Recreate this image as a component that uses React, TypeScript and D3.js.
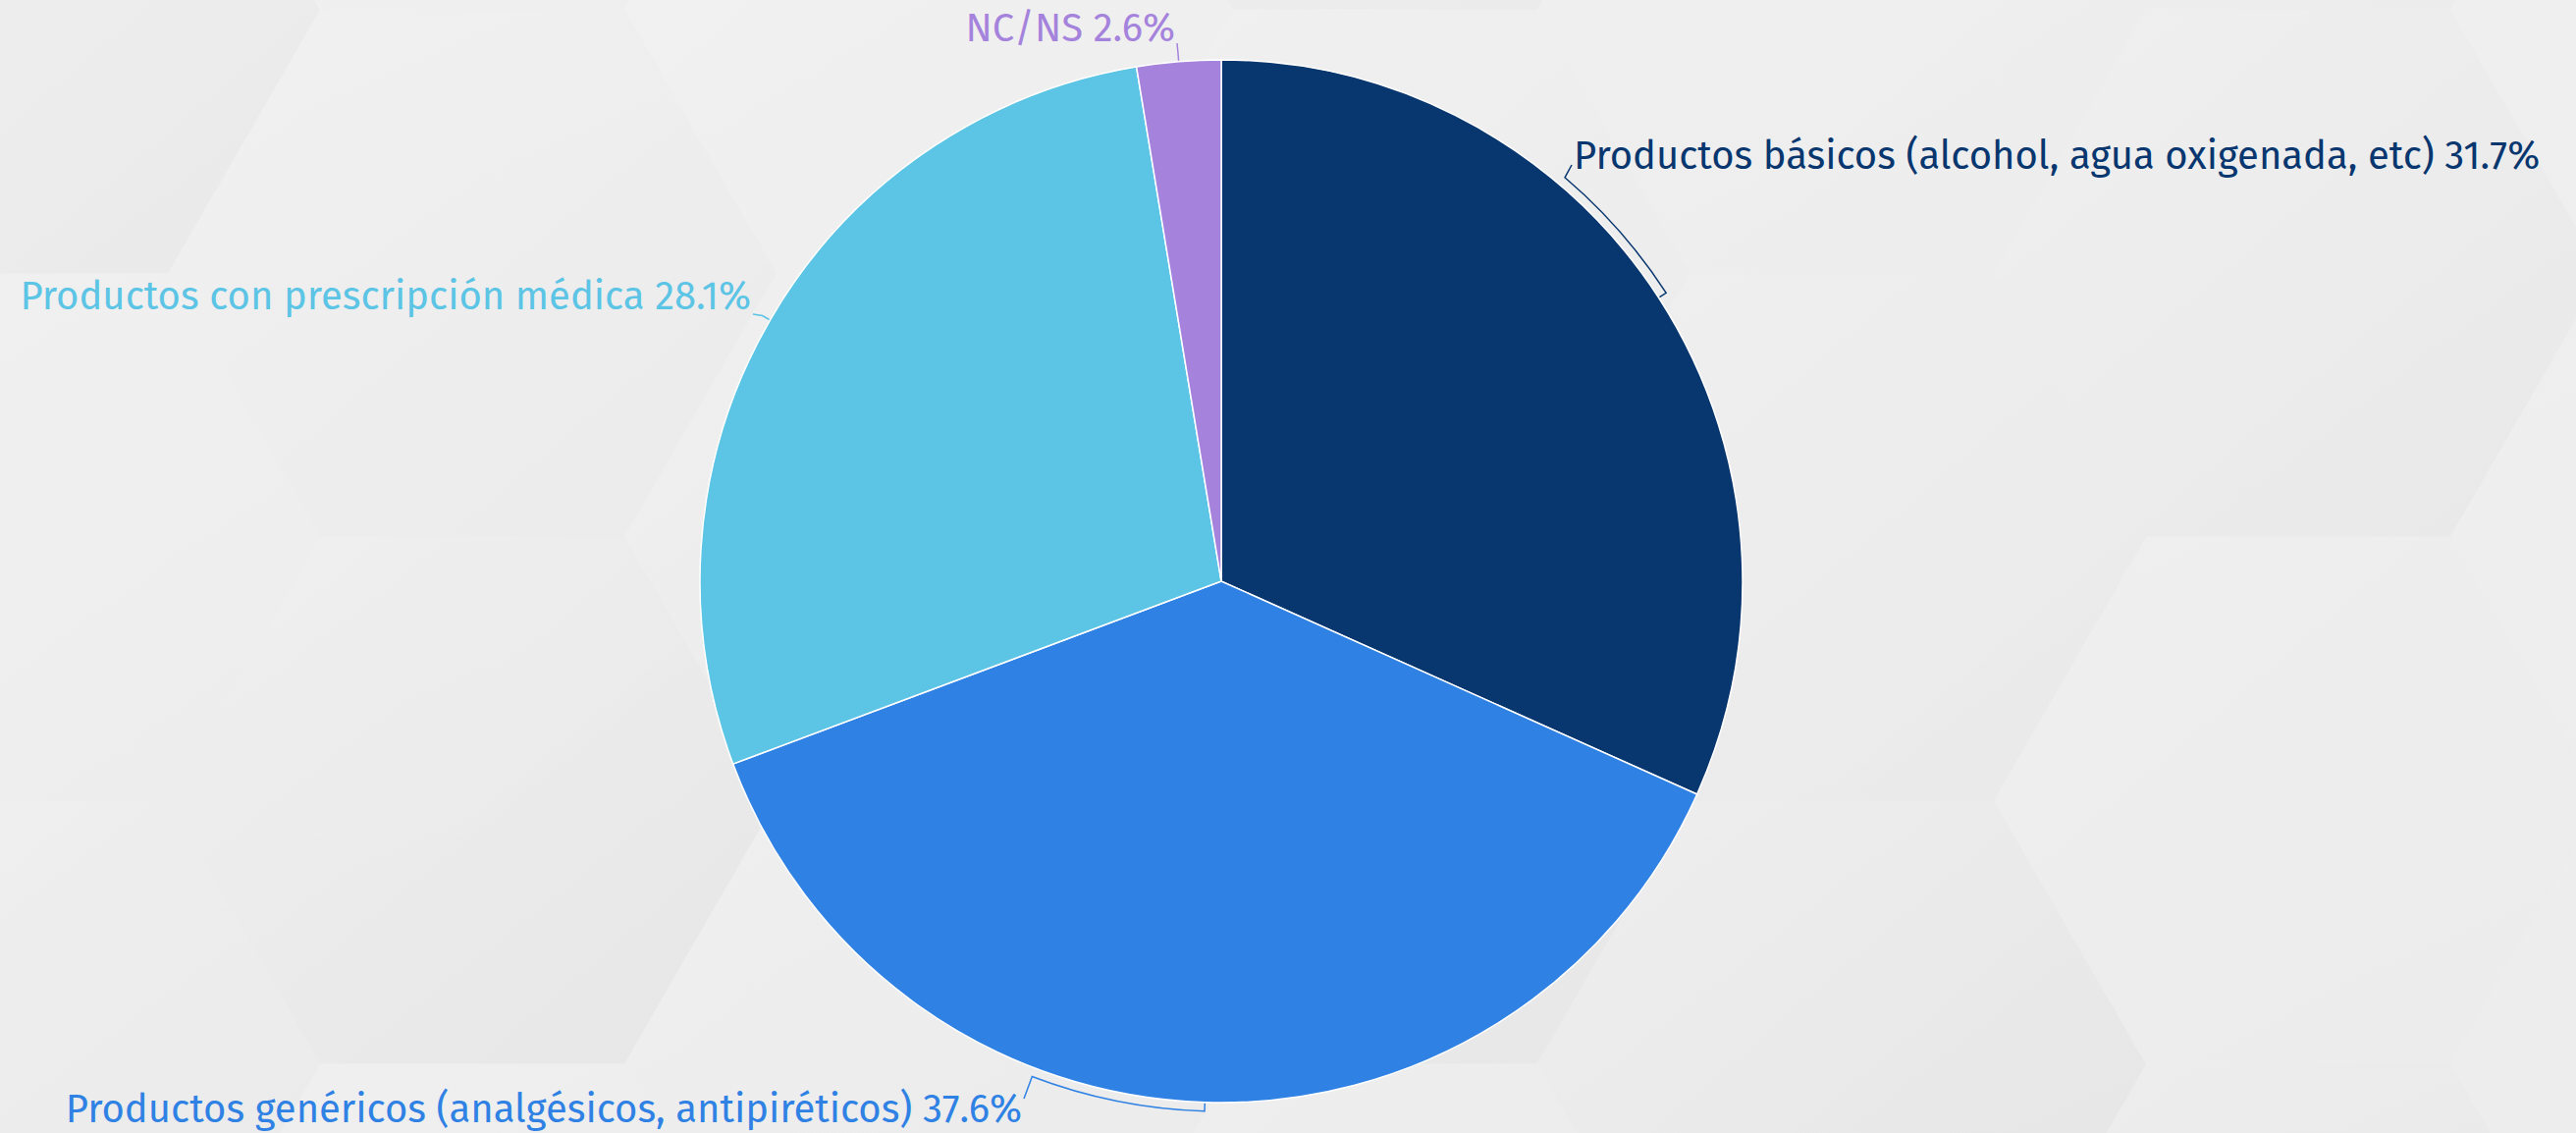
import React, { useMemo } from 'react';
import * as d3 from 'd3';

// Chart data
const categories = [
  'Productos básicos (alcohol, agua oxigenada, etc)',
  'Productos genéricos (analgésicos, antipiréticos)',
  'Productos con prescripción médica',
  'NC/NS',
];
const shares = [31.7, 37.6, 28.1, 2.6];
const sliceColors = ['#08366f', '#2f82e4', '#5cc4e5', '#a583dc'];

// Label placement (layout only)
const labelLayout = [
  { x: 1603, y: 172, anchor: 'start', tailX: 1601, tailY: 168, bendDeg: 40.4 },
  { x: 1041, y: 1143, anchor: 'end', tailX: 1043, tailY: 1119, bendDeg: 200.9 },
  { x: 765, y: 315, anchor: 'end', tailX: 767, tailY: 320, bendDeg: null },
  { x: 1197, y: 42, anchor: 'end', tailX: 1199, tailY: 44, bendDeg: null },
];

const W = 2624;
const H = 1154;
const cx = 1244;
const cy = 592;
const radius = 531;

const polar = (r: number, a: number): [number, number] => [cx + r * Math.sin(a), cy - r * Math.cos(a)];

// faint hexagon backdrop
const HexBackground: React.FC = () => {
  const s = 310;
  const hh = (s * Math.sqrt(3)) / 2;
  const hexes: { x: number; y: number; k: number }[] = [];
  for (let k = 0; k < 7; k++) {
    const x = 2341 - k * 1.5 * s;
    const y0 = k % 2 === 0 ? 815 : 547;
    for (let m = -2; m <= 2; m++) hexes.push({ x, y: y0 + m * 2 * hh, k: k * 5 + m });
  }
  const shades = [0.0, 0.018, 0.008, 0.025, 0.004, 0.014, 0.03];
  return (
    <g>
      <defs>
        <linearGradient id="bgGrad" x1="0" y1="0" x2="1" y2="1">
          <stop offset="0%" stopColor="#f1f1f1" />
          <stop offset="100%" stopColor="#ededed" />
        </linearGradient>
        <linearGradient id="hexShade" x1="0" y1="0" x2="1" y2="1">
          <stop offset="0%" stopColor="#000" stopOpacity={0} />
          <stop offset="100%" stopColor="#000" stopOpacity={1} />
        </linearGradient>
      </defs>
      <rect width={W} height={H} fill="url(#bgGrad)" />
      {hexes.map((h, i) => {
        const pts = d3.range(6).map((j) => {
          const a = (Math.PI / 3) * j;
          return `${h.x + s * Math.cos(a)},${h.y + s * Math.sin(a)}`;
        });
        const op = shades[Math.abs(h.k) % shades.length];
        return <polygon key={i} points={pts.join(' ')} fill="url(#hexShade)" opacity={op + 0.006} />;
      })}
    </g>
  );
};

const App: React.FC = () => {
  const arcs = useMemo(
    () =>
      d3
        .pie<number>()
        .sort(null)
        .value((d) => d)(shares),
    []
  );
  const arcGen = d3.arc<d3.PieArcDatum<number>>().innerRadius(0).outerRadius(radius);

  const connector = (i: number, a0: number, a1: number) => {
    const lay = labelLayout[i];
    const mid = (a0 + a1) / 2;
    const R = radius + 9;
    const end = polar(radius + 1, mid);
    if (lay.bendDeg === null) {
      const p = polar(R, mid);
      return `M${lay.tailX},${lay.tailY}L${p[0]},${p[1]}L${end[0]},${end[1]}`;
    }
    const b = (lay.bendDeg * Math.PI) / 180;
    const p0 = polar(R, b);
    const p1 = polar(R, mid);
    const sweep = mid > b ? 1 : 0;
    return `M${lay.tailX},${lay.tailY}L${p0[0]},${p0[1]}A${R},${R} 0 0 ${sweep} ${p1[0]},${p1[1]}L${end[0]},${end[1]}`;
  };

  return (
    <svg width={W} height={H} style={{ position: 'absolute', left: 0, top: 0, display: 'block' }}>
      <HexBackground />
      <g>
        {arcs.map((a, i) => (
          <path
            key={i}
            d={arcGen(a) || ''}
            transform={`translate(${cx},${cy})`}
            fill={sliceColors[i]}
            stroke="#ffffff"
            strokeWidth={1.5}
          />
        ))}
      </g>
      <g fontFamily="'Fira Sans', Roboto, 'Noto Sans', sans-serif" fontSize={40}>
        {arcs.map((a, i) => (
          <g key={i}>
            <path d={connector(i, a.startAngle, a.endAngle)} fill="none" stroke={sliceColors[i]} strokeWidth={1.5} />
            <text x={labelLayout[i].x} y={labelLayout[i].y} textAnchor={labelLayout[i].anchor} fill={sliceColors[i]}>
              {`${categories[i]} ${shares[i]}%`}
            </text>
          </g>
        ))}
      </g>
    </svg>
  );
};

export default App;
